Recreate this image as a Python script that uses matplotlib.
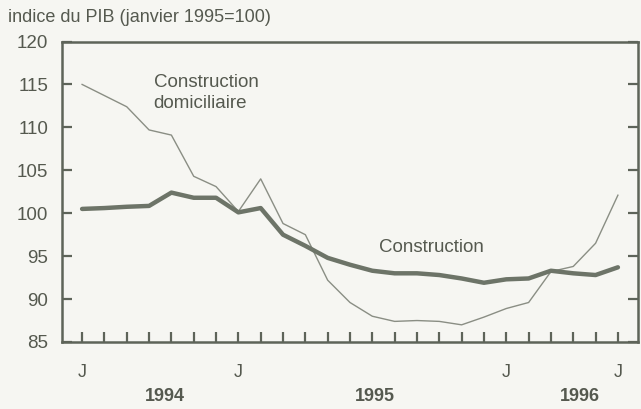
import numpy as np
import matplotlib.pyplot as plt

plt.rcParams['font.family'] = ['Liberation Sans', 'DejaVu Sans']

# mois de juin 1994 a juin 1996
mois = ["J", "J", "A", "S", "O", "N", "D",
        "J", "F", "M", "A", "M", "J", "J", "A", "S", "O", "N", "D",
        "J", "F", "M", "A", "M", "J"]
mois_affiches = [0, 7, 19, 24]
debuts_annee = [7, 19]
annees = ["1994", "1995", "1996"]
pos_annees = [3.7, 13.1, 22.3]

construction = [100.5, 100.6, 100.75, 100.85, 102.4, 101.8, 101.8, 100.1,
                100.6, 97.5, 96.2, 94.8, 94.0, 93.3, 93.0, 93.0, 92.8, 92.4,
                91.9, 92.3, 92.4, 93.3, 93.0, 92.8, 93.7]
domiciliaire = [115.0, 113.7, 112.4, 109.7, 109.1, 104.3, 103.1, 100.2,
                104.0, 98.8, 97.5, 92.2, 89.6, 88.0, 87.4, 87.5, 87.4, 87.0,
                87.9, 88.9, 89.6, 93.2, 93.8, 96.5, 102.1]

bg = "#f6f6f2"
fg = "#5e6459"
txt = "#55594f"

fig = plt.figure(figsize=(6.41, 4.09), dpi=100, facecolor=bg)
ax = fig.add_axes([62/641, 1 - 342/409, (638 - 62)/641, (342 - 41.5)/409])
ax.set_facecolor(bg)

x = np.arange(len(mois))
ax.plot(x, domiciliaire, color="#8a8e84", lw=1.0)
ax.plot(x, construction, color="#6d7468", lw=3.2, solid_capstyle="round",
        solid_joinstyle="round")

ax.set_xlim(-0.9, 24.9)
ax.set_ylim(85, 120)
ax.set_yticks(np.arange(85, 121, 5))

ax.set_xticks(x)
ax.set_xticklabels([m if i in mois_affiches else "" for i, m in enumerate(mois)])
ax.set_xticks(debuts_annee, minor=True)

for s in ax.spines.values():
    s.set_color(fg)
    s.set_linewidth(1.8)

ax.tick_params(axis="x", which="major", direction="in", length=7, width=1.6,
               color=fg, labelsize=13, labelcolor=txt, pad=16)
ax.tick_params(axis="x", which="minor", direction="in", length=24, width=1.6,
               color=fg)
ax.tick_params(axis="y", direction="in", length=7, width=1.6, color=fg,
               labelsize=13.5, labelcolor=txt, pad=10, right=True)

for a, p in zip(annees, pos_annees):
    ax.text(p, -0.18, a, transform=ax.get_xaxis_transform(), ha="center",
            va="center", fontsize=13, fontweight="bold", color=txt)

ax.text(3.2, 114.0, "Construction\ndomiciliaire", fontsize=13.5, color=txt,
        va="center", ha="left", linespacing=1.3)
ax.text(13.3, 96.0, "Construction", fontsize=13.5, color=txt, va="center",
        ha="left")

fig.text(8/641, 1 - 18/409, "indice du PIB (janvier 1995=100)", fontsize=13,
         color=txt, va="center", ha="left")

fig.savefig("out.png", dpi=100, facecolor=bg)
